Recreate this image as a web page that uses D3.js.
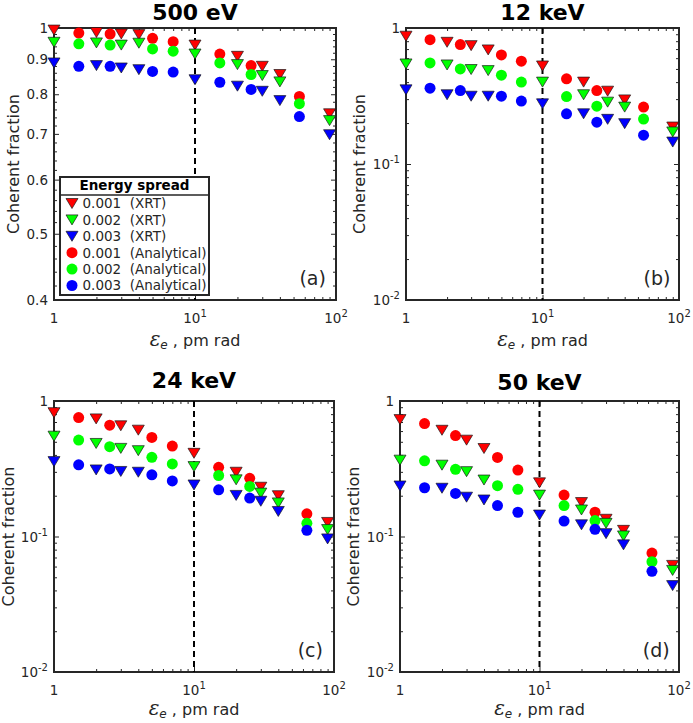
<!DOCTYPE html>
<html><head><meta charset="utf-8">
<script src="https://cdn.jsdelivr.net/npm/d3@7"></script>
<style>
body{margin:0;background:#fff}
svg{display:block}
text{font-family:"DejaVu Sans",sans-serif;fill:#262626}
</style>
</head><body>
<svg id="chart" width="693" height="723"></svg>
<script>
// ---------------- data ----------------
const panelTitles = ["500 eV", "12 keV", "24 keV", "50 keV"];
const panelLetters = ["(a)", "(b)", "(c)", "(d)"];
const spreads = ["0.001", "0.002", "0.003"];
const seriesColors = ["#ff0000", "#00ff00", "#0000ff"];

const xrtX = [1, 2, 3, 4, 10, 20, 30, 40, 90];
const anaX_ab = [1.5, 2.5, 5, 7, 15, 25, 55];
const anaX_cd = [1.5, 2.5, 5, 7, 15, 25, 64];

// panel (a) 500 eV
const a_xrt_001 = [0.993, 0.985, 0.980, 0.978, 0.944, 0.909, 0.879, 0.855, 0.749];
const a_xrt_002 = [0.953, 0.951, 0.944, 0.950, 0.916, 0.884, 0.852, 0.834, 0.732];
const a_xrt_003 = [0.889, 0.881, 0.874, 0.869, 0.840, 0.822, 0.808, 0.783, 0.698];
const a_ana_001 = [0.983, 0.980, 0.966, 0.955, 0.916, 0.881, 0.794];
const a_ana_002 = [0.948, 0.944, 0.932, 0.925, 0.889, 0.855, 0.775];
const a_ana_003 = [0.879, 0.879, 0.864, 0.862, 0.833, 0.813, 0.742];

// panel (b) 12 keV
const b_xrt_001 = [0.87, 0.785, 0.742, 0.69, 0.526, 0.40, 0.343, 0.296, 0.187];
const b_xrt_002 = [0.544, 0.535, 0.495, 0.486, 0.40, 0.323, 0.285, 0.262, 0.172];
const b_xrt_003 = [0.351, 0.323, 0.315, 0.315, 0.277, 0.234, 0.213, 0.198, 0.145];
const b_ana_001 = [0.821, 0.755, 0.634, 0.57, 0.423, 0.347, 0.262];
const b_ana_002 = [0.554, 0.50, 0.45, 0.40, 0.313, 0.266, 0.214];
const b_ana_003 = [0.361, 0.347, 0.315, 0.29, 0.234, 0.203, 0.163];

// panel (c) 24 keV
const c_xrt_001 = [0.82, 0.738, 0.656, 0.609, 0.411, 0.298, 0.231, 0.20, 0.127];
const c_xrt_002 = [0.55, 0.486, 0.447, 0.43, 0.328, 0.262, 0.209, 0.177, 0.1125];
const c_xrt_003 = [0.357, 0.31, 0.302, 0.298, 0.24, 0.201, 0.182, 0.153, 0.096];
const c_ana_001 = [0.755, 0.663, 0.538, 0.465, 0.324, 0.269, 0.147];
const c_ana_002 = [0.515, 0.46, 0.384, 0.343, 0.282, 0.234, 0.125];
const c_ana_003 = [0.338, 0.315, 0.285, 0.257, 0.221, 0.192, 0.111];

// panel (d) 50 keV
const d_xrt_001 = [0.729, 0.608, 0.514, 0.446, 0.249, 0.178, 0.134, 0.111, 0.0612];
const d_xrt_002 = [0.366, 0.336, 0.301, 0.261, 0.202, 0.157, 0.125, 0.101, 0.0562];
const d_xrt_003 = [0.236, 0.227, 0.195, 0.186, 0.144, 0.122, 0.105, 0.0868, 0.0434];
const d_ana_001 = [0.681, 0.556, 0.383, 0.309, 0.202, 0.151, 0.0754];
const d_ana_002 = [0.362, 0.313, 0.237, 0.223, 0.169, 0.131, 0.0651];
const d_ana_003 = [0.229, 0.208, 0.169, 0.151, 0.130, 0.113, 0.0553];

// ticks
const xMajorTicks = [1, 10, 100];
const xTickLabels = [["1", ""], ["10", "1"], ["10", "2"]];
const xMinorTicks = [2,3,4,5,6,7,8,9,20,30,40,50,60,70,80,90];
const yMajorA = [0.4, 0.5, 0.6, 0.7, 0.8, 0.9, 1];
const yLabelsA = [["0.4",""],["0.5",""],["0.6",""],["0.7",""],["0.8",""],["0.9",""],["1",""]];
const yMinorA = [0.42,0.44,0.46,0.48,0.52,0.54,0.56,0.58,0.62,0.64,0.66,0.68,0.72,0.74,0.76,0.78,0.82,0.84,0.86,0.88,0.92,0.94,0.96,0.98];
const yMajorLog = [0.01, 0.1, 1];
const yLabelsLog = [["10","-2"],["10","-1"],["1",""]];
const yMinorLog = [0.02,0.03,0.04,0.05,0.06,0.07,0.08,0.09,0.2,0.3,0.4,0.5,0.6,0.7,0.8,0.9];

const legendTitle = "Energy spread";
const legendEntries = [
  {label: "0.001  (XRT)", type: "xrt", c: 0},
  {label: "0.002  (XRT)", type: "xrt", c: 1},
  {label: "0.003  (XRT)", type: "xrt", c: 2},
  {label: "0.001  (Analytical)", type: "ana", c: 0},
  {label: "0.002  (Analytical)", type: "ana", c: 1},
  {label: "0.003  (Analytical)", type: "ana", c: 2}
];

// ---------------- layout ----------------
const panels = [
  {box:[54,336,28,300], yDomain:[0.4,1], yMajor:yMajorA, yLabels:yLabelsA, yMinor:yMinorA,
   xrt:[a_xrt_001,a_xrt_002,a_xrt_003], ana:[a_ana_001,a_ana_002,a_ana_003], anaX:anaX_ab,
   titleY:20, ylabX:19, xlabDy:46, legend:true},
  {box:[406,679,28,300], yDomain:[0.01,1], yMajor:yMajorLog, yLabels:yLabelsLog, yMinor:yMinorLog,
   xrt:[b_xrt_001,b_xrt_002,b_xrt_003], ana:[b_ana_001,b_ana_002,b_ana_003], anaX:anaX_ab,
   titleY:20, ylabX:365, xlabDy:46},
  {box:[54,334,401,672], yDomain:[0.01,1], yMajor:yMajorLog, yLabels:yLabelsLog, yMinor:yMinorLog,
   xrt:[c_xrt_001,c_xrt_002,c_xrt_003], ana:[c_ana_001,c_ana_002,c_ana_003], anaX:anaX_cd,
   titleY:388, ylabX:14, xlabDy:43},
  {box:[400,679,401,672], yDomain:[0.01,1], yMajor:yMajorLog, yLabels:yLabelsLog, yMinor:yMinorLog,
   xrt:[d_xrt_001,d_xrt_002,d_xrt_003], ana:[d_ana_001,d_ana_002,d_ana_003], anaX:anaX_cd,
   titleY:390, ylabX:359, xlabDy:43}
];

const AX = "#262626";
const triPath = "M-6,-5L6,-5L0,5Z";
const svg = d3.select("#chart");

function supText(sel, parts, size, supSize) {
  sel.attr("font-size", size).text(parts[0]);
  if (parts[1]) sel.append("tspan").attr("dy", -6).attr("font-size", supSize).text(parts[1]);
}

panels.forEach((p, i) => {
  const [x0, x1, y0, y1] = p.box;
  const x = d3.scaleLog().domain([1, 100]).range([x0, x1]);
  const y = d3.scaleLog().domain(p.yDomain).range([y1, y0]);
  const g = svg.append("g");

  const addAxis = (axis, tx, ty) => {
    const a = g.append("g").attr("transform", `translate(${tx},${ty})`).call(axis);
    a.select(".domain").remove();
    a.selectAll("line").attr("stroke", AX).attr("stroke-width", 1);
    a.selectAll("text").remove();
  };
  addAxis(d3.axisBottom(x).tickValues(xMajorTicks).tickSize(-5), 0, y1);
  addAxis(d3.axisBottom(x).tickValues(xMinorTicks).tickSize(-3), 0, y1);
  addAxis(d3.axisTop(x).tickValues(xMajorTicks).tickSize(-5), 0, y0);
  addAxis(d3.axisTop(x).tickValues(xMinorTicks).tickSize(-3), 0, y0);
  addAxis(d3.axisLeft(y).tickValues(p.yMajor).tickSize(-5), x0, 0);
  addAxis(d3.axisLeft(y).tickValues(p.yMinor).tickSize(-3), x0, 0);
  addAxis(d3.axisRight(y).tickValues(p.yMajor).tickSize(-5), x1, 0);
  addAxis(d3.axisRight(y).tickValues(p.yMinor).tickSize(-3), x1, 0);

  g.append("rect").attr("x", x0).attr("y", y0).attr("width", x1 - x0).attr("height", y1 - y0)
    .attr("fill", "none").attr("stroke", AX).attr("stroke-width", 2);

  xMajorTicks.forEach((v, k) => {
    const t = g.append("text").attr("x", x(v)).attr("y", y1 + 23).attr("text-anchor", "middle");
    supText(t, xTickLabels[k], 13.5, 10);
  });
  p.yMajor.forEach((v, k) => {
    const t = g.append("text").attr("x", x0 - 6).attr("y", y(v) + 5).attr("text-anchor", "end");
    supText(t, p.yLabels[k], 13.5, 10);
  });

  g.append("line").attr("x1", x(10)).attr("x2", x(10)).attr("y1", y0).attr("y2", y1)
    .attr("stroke", "#000").attr("stroke-width", 2).attr("stroke-dasharray", "6,4");

  p.ana.forEach((vals, s) => {
    g.append("g").selectAll("circle").data(vals).join("circle")
      .attr("cx", (d, k) => x(p.anaX[k])).attr("cy", d => y(d)).attr("r", 5.5)
      .attr("fill", seriesColors[s]);
  });
  p.xrt.forEach((vals, s) => {
    g.append("g").selectAll("path").data(vals).join("path")
      .attr("d", triPath)
      .attr("transform", (d, k) => `translate(${x(xrtX[k])},${y(d)})`)
      .attr("fill", seriesColors[s]).attr("stroke", "#1a1a1a").attr("stroke-width", 0.7);
  });

  g.append("text").attr("x", (x0 + x1) / 2).attr("y", p.titleY).attr("text-anchor", "middle")
    .attr("font-size", 22).attr("font-weight", "bold").style("fill", "#000").text(panelTitles[i]);

  g.append("text").attr("transform", `translate(${p.ylabX},${(y0 + y1) / 2}) rotate(-90)`)
    .attr("text-anchor", "middle").attr("font-size", 16).text("Coherent fraction");

  const xl = g.append("text").attr("x", (x0 + x1) / 2).attr("y", y1 + p.xlabDy).attr("text-anchor", "middle")
    .attr("font-size", 16);
  xl.append("tspan").attr("font-family", "DejaVu Serif").attr("font-style", "italic").attr("font-size", 20).text("ε");
  xl.append("tspan").attr("font-style", "italic").attr("font-size", 12).attr("dy", 3).text("e");
  xl.append("tspan").attr("dy", -3).style("white-space", "pre").text(" , pm rad");

  g.append("text").attr("x", x(55)).attr("y", y1 - 15).attr("font-size", 19).text(panelLetters[i]);

  if (p.legend) {
    const lx0 = 60, lx1 = 209, ly0 = 177, ly1 = 295;
    const lg = g.append("g");
    lg.append("rect").attr("x", lx0).attr("y", ly0).attr("width", lx1 - lx0).attr("height", ly1 - ly0)
      .attr("fill", "#fff").attr("stroke", AX).attr("stroke-width", 2);
    lg.append("line").attr("x1", lx0).attr("x2", lx1).attr("y1", 195).attr("y2", 195)
      .attr("stroke", AX).attr("stroke-width", 1.5);
    lg.append("text").attr("x", (lx0 + lx1) / 2).attr("y", 190).attr("text-anchor", "middle")
      .attr("font-size", 13.5).attr("font-weight", "bold").style("fill", "#000").text(legendTitle);
    legendEntries.forEach((e, k) => {
      const cy = 203.5 + k * 16.4;
      if (e.type === "xrt") {
        lg.append("path").attr("d", triPath).attr("transform", `translate(72,${cy})`)
          .attr("fill", seriesColors[e.c]).attr("stroke", "#1a1a1a").attr("stroke-width", 0.7);
      } else {
        lg.append("circle").attr("cx", 72).attr("cy", cy).attr("r", 5.5).attr("fill", seriesColors[e.c]);
      }
      lg.append("text").attr("x", 82.5).attr("y", cy + 4.8).attr("font-size", 13.5)
        .style("white-space", "pre").text(e.label);
    });
  }
});
</script>
</body></html>
